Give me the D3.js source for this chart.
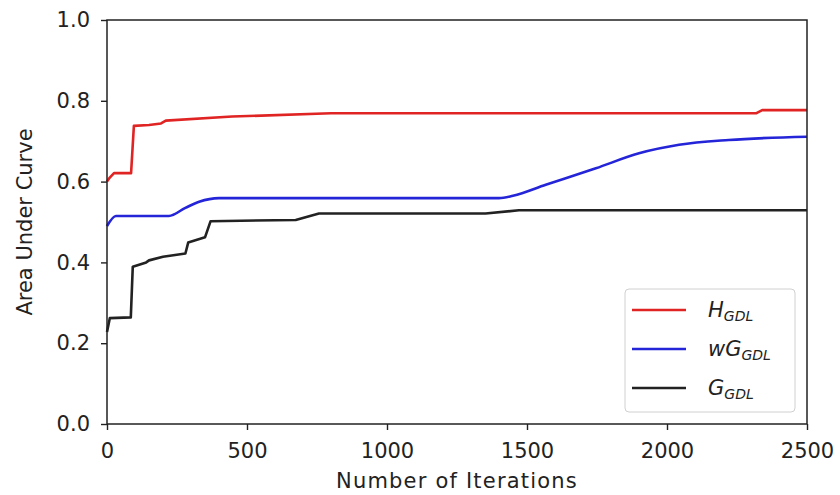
<!DOCTYPE html>
<html>
<head>
<meta charset="utf-8">
<script src="https://cdn.jsdelivr.net/npm/d3@7"></script>
<style>
  body { margin: 0; background: #fff; }
  text { font-family: "DejaVu Sans", sans-serif; fill: #222; }
</style>
</head>
<body>
<div id="chart"></div>
<script>
// values
const xTicks = [0, 500, 1000, 1500, 2000, 2500];
const yTicks = [0.0, 0.2, 0.4, 0.6, 0.8, 1.0];

const hIter = [0, 10, 25, 86, 96, 150, 193, 210, 447, 800, 2318, 2340, 2500];
const hAuc = [0.600, 0.610, 0.621, 0.621, 0.738, 0.740, 0.744, 0.751, 0.761, 0.769, 0.769, 0.777, 0.777];

const wIter = [0, 32, 221, 280, 329, 400, 1400, 1450, 1567, 1746, 1900, 2043, 2221, 2500];
const wAuc = [0.490, 0.515, 0.515, 0.535, 0.550, 0.559, 0.559, 0.565, 0.592, 0.633, 0.670, 0.691, 0.703, 0.711];

const gIter = [0, 10, 85, 92, 140, 150, 200, 280, 290, 350, 370, 674, 757, 1352, 1471, 2500];
const gAuc = [0.228, 0.262, 0.264, 0.389, 0.400, 0.405, 0.414, 0.422, 0.449, 0.462, 0.502, 0.505, 0.521, 0.521, 0.529, 0.529];

const seriesNames = ['H', 'wG', 'G'];
const seriesColors = ['#e02424', '#2424d8', '#222222'];

const margin = { top: 20, right: 33, bottom: 71, left: 107 };
const width = 840 - margin.left - margin.right;
const height = 495 - margin.top - margin.bottom;

const svg = d3
    .select('#chart')
    .append('svg')
    .attr('width', 840)
    .attr('height', 495)
    .append('g')
    .attr('transform', 'translate(' + margin.left + ',' + margin.top + ')');

const x = d3.scaleLinear().domain([0, 2500]).range([0, width]);
const y = d3.scaleLinear().domain([0, 1]).range([height, 0]);

const series = [
    { iter: hIter, auc: hAuc, curve: d3.curveLinear },
    { iter: wIter, auc: wAuc, curve: d3.curveMonotoneX },
    { iter: gIter, auc: gAuc, curve: d3.curveLinear },
];

// lines
series.forEach((s, i) => {
    const pts = s.iter.map((d, j) => [d, s.auc[j]]);
    const line = d3.line()
        .x(d => x(d[0]))
        .y(d => y(d[1]))
        .curve(s.curve);
    svg.append('path')
        .datum(pts)
        .attr('fill', 'none')
        .attr('stroke', seriesColors[i])
        .attr('stroke-width', 2.6)
        .attr('stroke-linejoin', 'round')
        .attr('d', line);
});

// axes
const xAxis = svg.append('g')
    .attr('transform', 'translate(0,' + height + ')')
    .call(d3.axisBottom(x).tickValues(xTicks).tickSize(6).tickPadding(13).tickFormat(d3.format('d')));
const yAxis = svg.append('g')
    .call(d3.axisLeft(y).tickValues(yTicks).tickSize(6).tickPadding(11).tickFormat(d3.format('.1f')));

[xAxis, yAxis].forEach(a => {
    a.select('.domain').remove();
    a.selectAll('line').attr('stroke', '#222').attr('stroke-width', 1.4);
    a.selectAll('text')
        .style('font-family', '"DejaVu Sans", sans-serif')
        .style('font-size', '21px')
        .attr('fill', '#2a2a2a');
});

// frame
svg.append('rect')
    .attr('x', 0)
    .attr('y', 0)
    .attr('width', width)
    .attr('height', height)
    .attr('fill', 'none')
    .attr('stroke', '#222')
    .attr('stroke-width', 1.5);

// axis labels
svg.append('text')
    .attr('x', width / 2)
    .attr('y', height + 64)
    .attr('text-anchor', 'middle')
    .style('font-size', '21px')
    .style('letter-spacing', '1.2px')
    .text('Number of Iterations');

svg.append('text')
    .attr('transform', 'translate(' + (25 - margin.left) + ',' + (222 - margin.top) + ') rotate(-90)')
    .attr('text-anchor', 'middle')
    .attr('dy', '0.35em')
    .style('font-size', '21px')
    .text('Area Under Curve');

// legend
const legend = svg.append('g')
    .attr('transform', 'translate(' + (625 - margin.left) + ',' + (289 - margin.top) + ')');

legend.append('rect')
    .attr('width', 170)
    .attr('height', 123)
    .attr('rx', 4)
    .attr('fill', '#fff')
    .attr('fill-opacity', 0.8)
    .attr('stroke', '#d0d0d0')
    .attr('stroke-width', 1);

seriesNames.forEach((name, i) => {
    const row = legend.append('g')
        .attr('transform', 'translate(0,' + (21 + i * 39) + ')');
    row.append('line')
        .attr('x1', 7)
        .attr('x2', 61)
        .attr('stroke', seriesColors[i])
        .attr('stroke-width', 2.6);
    const t = row.append('text')
        .attr('x', 83)
        .attr('y', 7)
        .style('font-size', '21px')
        .style('font-style', 'italic');
    t.append('tspan').text(name);
    t.append('tspan')
        .attr('dy', 4)
        .style('font-size', '14px')
        .text('GDL');
});
</script>
</body>
</html>
